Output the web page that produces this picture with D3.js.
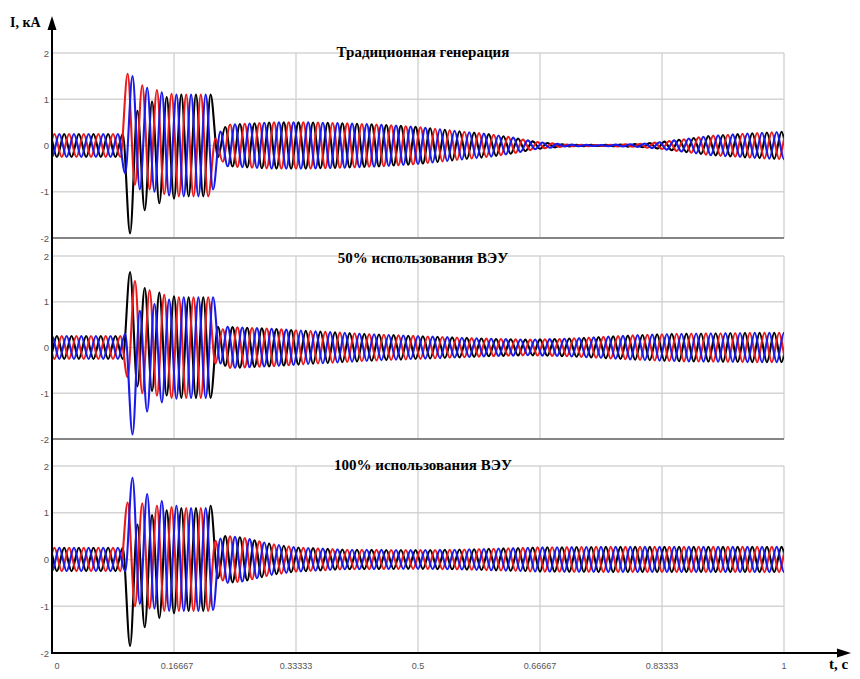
<!DOCTYPE html>
<html><head><meta charset="utf-8">
<script src="https://cdn.jsdelivr.net/npm/d3@7"></script>
<style>body{margin:0;background:#fff}svg{display:block}</style>
</head><body>
<svg id="c" width="860" height="679"></svg>
<script>
// ---------------- DATA ----------------
const xTicks = [0, 1/6, 1/3, 0.5, 2/3, 5/6, 1];
const xTickLabels = ["0", "0.16667", "0.33333", "0.5", "0.66667", "0.83333", "1"];
const yTicks = [-2, -1, 0, 1, 2];
const yTickLabels = ["-2", "-1", "0", "1", "2"];
const panelTitles = ["Традиционная генерация", "50% использования ВЭУ", "100% использования ВЭУ"];
const phaseColors = ["#000000", "#ea1a1a", "#1a1aea"]; // black, red, blue
const halfPeriod = 0.01;   // 50 Hz
const faultFrom = 0.09;    // first listed extremum time (s)

// time of first positive peak per phase [black, red, blue], s
const peakT0_1 = [0.01667, 0.00333, 0.01];
const peakT0_2 = [0.00667, 0.01333, 0.0];
const peakT0_3 = [0.01667, 0.00333, 0.01];

// envelope (kA) outside of the fault, knots
const env1T = [0, 0.1, 0.24, 0.3, 0.35, 0.4, 0.45, 0.5, 0.55, 0.6, 0.63, 0.66, 0.7, 0.75, 0.8, 0.83, 0.87, 0.9, 0.95, 1];
const env1A = [0.25, 0.25, 0.45, 0.5, 0.5, 0.48, 0.45, 0.4, 0.32, 0.24, 0.17, 0.08, 0.02, 0.01, 0.03, 0.07, 0.15, 0.21, 0.26, 0.3];
const env2T = [0, 0.1, 0.24, 0.3, 0.35, 0.4, 0.45, 0.5, 0.55, 0.6, 0.65, 0.7, 0.75, 0.8, 0.85, 0.9, 0.95, 1];
const env2A = [0.25, 0.25, 0.45, 0.41, 0.36, 0.32, 0.28, 0.25, 0.22, 0.19, 0.17, 0.19, 0.23, 0.27, 0.3, 0.31, 0.32, 0.32];
const env3T = [0, 0.1, 0.24, 0.26, 0.28, 0.3, 0.333, 0.4, 0.5, 0.55, 0.6, 0.667, 0.75, 0.833, 1];
const env3A = [0.25, 0.25, 0.5, 0.47, 0.4, 0.33, 0.26, 0.21, 0.2, 0.21, 0.23, 0.26, 0.27, 0.27, 0.27];

// successive half-cycle peaks (kA) around the fault, from faultFrom on
const fault1Black = [0.25, -1.9, 0.75, -1.4, 0.95, -1.25, 1.05, -1.15, 1.1, -1.1, 1.1, -1.1, 1.1, -0.25, 0.4];
const fault1Red   = [-0.25, 1.55, -0.85, 1.3, -0.95, 1.2, -1.05, 1.12, -1.1, 1.1, -1.1, 1.1, -1.1, 0.15, -0.35];
const fault1Blue  = [0.25, -0.6, 1.5, -0.95, 1.25, -1.0, 1.15, -1.08, 1.1, -1.1, 1.1, -1.1, 1.1, -0.95, 0.3];

const fault2Black = [-0.25, 1.65, -0.85, 1.3, -0.95, 1.2, -1.05, 1.12, -1.1, 1.1, -1.1, 1.1, -1.1, 0.45, -0.4];
const fault2Red   = [0.25, -0.65, 1.45, -1.0, 1.25, -1.05, 1.15, -1.1, 1.1, -1.1, 1.1, -1.1, 1.1, -0.35, 0.4];
const fault2Blue  = [-0.25, 0.3, -1.9, 0.8, -1.4, 0.95, -1.2, 1.05, -1.12, 1.1, -1.1, 1.1, -1.1, 1.1, -0.35];

const fault3Black = [0.25, -1.85, 0.75, -1.45, 0.95, -1.25, 1.05, -1.15, 1.1, -1.1, 1.1, -1.1, 1.15, -0.4, 0.5];
const fault3Red   = [-0.25, 1.22, -1.0, 1.2, -1.05, 1.15, -1.1, 1.12, -1.1, 1.1, -1.1, 1.1, -1.1, 0.4, -0.45];
const fault3Blue  = [0.25, -0.25, 1.75, -0.95, 1.4, -1.05, 1.25, -1.1, 1.15, -1.1, 1.1, -1.1, 1.1, -1.08, 0.45];

// ---------------- LAYOUT ----------------
const panels = [
  {title: panelTitles[0], t0: peakT0_1, envT: env1T, envA: env1A, fault: [fault1Black, fault1Red, fault1Blue], yTop: 53, yBot: 238, clipTop: 28, titleY: 57},
  {title: panelTitles[1], t0: peakT0_2, envT: env2T, envA: env2A, fault: [fault2Black, fault2Red, fault2Blue], yTop: 256, yBot: 439, clipTop: 239, titleY: 263},
  {title: panelTitles[2], t0: peakT0_3, envT: env3T, envA: env3A, fault: [fault3Black, fault3Red, fault3Blue], yTop: 466, yBot: 653, clipTop: 440, titleY: 470}
];
const X0 = 52, X1 = 784;
const svg = d3.select("#c");
const x = d3.scaleLinear().domain([0, 1]).range([X0, X1]);

const defs = svg.append("defs");

function extrema(t0, env, faultVals) {
  const pts = [];
  let n = Math.floor((-0.03 - t0) / halfPeriod);
  let idx = 0;
  for (;; n++) {
    const t = t0 + n * halfPeriod;
    if (t > 1.03) break;
    const sign = ((n % 2) + 2) % 2 === 0 ? 1 : -1;
    let v;
    if (t >= faultFrom - 1e-6 && idx < faultVals.length) v = faultVals[idx++];
    else v = sign * env(Math.max(0, Math.min(1, t)));
    pts.push([t, v]);
  }
  return pts;
}

panels.forEach((p, i) => {
  const y = d3.scaleLinear().domain([-2, 2]).range([p.yBot, p.yTop]);
  const g = svg.append("g");
  // grid
  g.selectAll(".hg").data(yTicks.filter(d => d > -2)).enter().append("line")
    .attr("x1", X0).attr("x2", X1).attr("y1", d => y(d)).attr("y2", d => y(d))
    .attr("stroke", "#d4d4d4").attr("stroke-width", 1.3);
  g.selectAll(".vg").data(xTicks.slice(1)).enter().append("line")
    .attr("x1", d => x(d)).attr("x2", d => x(d)).attr("y1", y(2)).attr("y2", y(-2))
    .attr("stroke", "#d0d0d0").attr("stroke-width", 1.3);
  // y tick labels
  g.selectAll(".yl").data(yTicks).enter().append("text")
    .attr("x", 49).attr("y", d => y(d) + 3.5).attr("text-anchor", "end")
    .attr("font-family", "Arial, 'Liberation Sans', sans-serif").attr("font-size", 9.5)
    .attr("fill", "#555").text((d, k) => yTickLabels[k]);
  // clip
  const cid = "clip" + i;
  defs.append("clipPath").attr("id", cid).append("rect")
    .attr("x", X0).attr("y", p.clipTop).attr("width", X1 - X0).attr("height", p.yBot - p.clipTop);
  const env = d3.scaleLinear().domain(p.envT).range(p.envA).clamp(true);
  const line = d3.line().x(d => x(d[0])).y(d => y(d[1])).curve(d3.curveMonotoneX);
  const wg = g.append("g").attr("clip-path", `url(#${cid})`);
  [0, 1, 2].forEach(ph => {
    wg.append("path").attr("d", line(extrema(p.t0[ph], env, p.fault[ph])))
      .attr("fill", "none").attr("stroke", phaseColors[ph]).attr("stroke-width", 2.1)
      .attr("stroke-linejoin", "round");
  });
  // bottom separator
  if (i < 2) {
    g.append("line").attr("x1", X0).attr("x2", X1).attr("y1", y(-2)).attr("y2", y(-2))
      .attr("stroke", "#858585").attr("stroke-width", 2);
  }
  // title
  g.append("text").attr("x", 423).attr("y", p.titleY).attr("text-anchor", "middle")
    .attr("font-family", "'Liberation Serif', 'Times New Roman', serif").attr("font-weight", "bold")
    .attr("font-size", 15).attr("fill", "#000").text(p.title);
});

// x axis
const yAxisPos = 653;
svg.append("line").attr("x1", X0).attr("x2", 842).attr("y1", yAxisPos).attr("y2", yAxisPos)
  .attr("stroke", "#000").attr("stroke-width", 2);
svg.append("path").attr("d", `M851,${yAxisPos} L837,${yAxisPos - 4.5} L837,${yAxisPos + 4.5} Z`).attr("fill", "#000");
svg.selectAll(".xl").data(xTicks).enter().append("text")
  .attr("x", (d, k) => x(d) + (k === 0 ? 5 : (k === 1 ? 3 : 0))).attr("y", 669).attr("text-anchor", "middle")
  .attr("font-family", "Arial, 'Liberation Sans', sans-serif").attr("font-size", 9)
  .attr("fill", "#555").text((d, k) => xTickLabels[k]);
svg.append("text").attr("x", 829).attr("y", 669)
  .attr("font-family", "'Liberation Serif', 'Times New Roman', serif").attr("font-weight", "bold")
  .attr("font-size", 15).attr("fill", "#000").text("t, c");

// y axis
svg.append("line").attr("x1", X0).attr("x2", X0).attr("y1", yAxisPos + 1).attr("y2", 26)
  .attr("stroke", "#000").attr("stroke-width", 2);
svg.append("path").attr("d", `M${X0},16 L${X0 - 4.5},30 L${X0 + 4.5},30 Z`).attr("fill", "#000");
svg.append("text").attr("x", 10).attr("y", 27)
  .attr("font-family", "'Liberation Serif', 'Times New Roman', serif").attr("font-weight", "bold")
  .attr("font-size", 14).attr("fill", "#000").text("I, кА");
</script>
</body></html>
